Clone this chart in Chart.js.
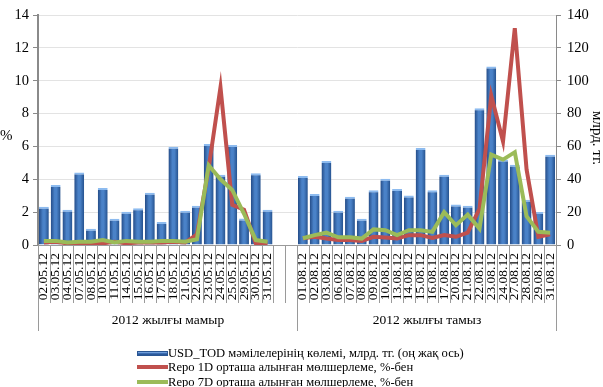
<!DOCTYPE html>
<html><head><meta charset="utf-8">
<script src="https://cdn.jsdelivr.net/npm/chart.js@4/dist/chart.umd.min.js"></script>
<style>
html,body{margin:0;padding:0;background:#fff;}
#wrap{position:relative;width:603px;height:387px;overflow:hidden;}
#legend{position:absolute;left:137px;top:346px;font-family:"Liberation Serif",serif;font-size:12.6px;color:#000;}
.row{height:14.3px;line-height:14.3px;white-space:nowrap;display:flex;align-items:center;}
.ic{display:inline-block;width:31px;margin-right:0px;}
</style></head>
<body><div id="wrap"><canvas id="c" width="603" height="387"></canvas>
<div id="legend">
<div class="row"><span class="ic" style="height:5px;background:linear-gradient(#8dbbef,#3d6fb6 45%,#24508c);border:1px solid #2a5694;box-sizing:border-box"></span>USD_TOD мәмілелерінің көлемі, млрд. тг. (оң жақ ось)</div>
<div class="row"><span class="ic" style="height:4px;background:#c0504d"></span>Repo 1D орташа алынған мөлшерлеме, %-бен</div>
<div class="row"><span class="ic" style="height:4px;background:#9bbb59"></span>Repo 7D орташа алынған мөлшерлеме, %-бен</div>
</div></div>
<script>
const datesMay = ['02.05.12','03.05.12','04.05.12','07.05.12','08.05.12','10.05.12','11.05.12','14.05.12','15.05.12','16.05.12','17.05.12','18.05.12','21.05.12','22.05.12','23.05.12','24.05.12','25.05.12','29.05.12','30.05.12','31.05.12'];
const datesAug = ['01.08.12','02.08.12','03.08.12','06.08.12','07.08.12','08.08.12','09.08.12','10.08.12','13.08.12','14.08.12','15.08.12','16.08.12','17.08.12','20.08.12','21.08.12','22.08.12','23.08.12','24.08.12','27.08.12','28.08.12','29.08.12','31.08.12'];
const gapLabels = ['',''];
const groupLabels = ['2012 жылғы мамыр','2012 жылғы тамыз'];
const volumeMay = [23.3,36.5,21.5,44.2,9.9,34.7,16,20.3,22.3,31.8,14,59.8,20.9,23.9,61.5,42.8,60.8,16.2,43.6,21.5];
const volumeAug = [42,31,51.1,20.9,29.4,16,33.3,40.4,34.1,30.2,59,33.3,42.8,24.7,23.9,83.2,108.7,52,48.9,27.6,20.1,55];
const repo1dMay = [0.15,0.2,0.1,0.1,0.1,0.1,0.2,0.1,0.15,0.15,0.15,0.2,0.15,0.65,4.7,9.6,2.45,2.15,0.1,0.1];
const repo1dAug = [0.41,0.5,0.39,0.3,0.3,0.24,0.5,0.45,0.39,0.6,0.6,0.43,0.6,0.5,0.75,2.2,9.1,6.3,13.2,4.6,0.5,0.65];
const repo7dMay = [0.25,0.25,0.15,0.2,0.2,0.3,0.15,0.25,0.2,0.2,0.25,0.25,0.2,0.35,4.85,4.0,3.35,1.9,0.3,0.2];
const repo7dAug = [0.41,0.6,0.75,0.47,0.47,0.39,0.95,0.9,0.6,0.9,0.9,0.8,2.0,1.2,1.85,1.0,5.5,5.2,5.65,1.75,0.8,0.75];
const leftTitle = '%';
const rightTitle = 'млрд. тг.';

const gapNull = gapLabels.map(()=>null);
const labels = [...datesMay, ...gapLabels, ...datesAug];
const volume = [...volumeMay, ...gapNull, ...volumeAug];
const repo1d = [...repo1dMay, ...gapNull, ...repo1dAug];
const repo7d = [...repo7dMay, ...gapNull, ...repo7dAug];
const groupStarts = [0, datesMay.length + gapLabels.length, labels.length];

const FONT = "'Liberation Serif', serif";

const barFill = (ctx) => {
  const chart = ctx.chart, xs = chart.scales && chart.scales.x;
  if (!chart.chartArea || ctx.type !== 'data' || !xs) return '#3d6fb6';
  const cx = xs.getPixelForValue(ctx.dataIndex);
  const w = 5;
  const g = chart.ctx.createLinearGradient(cx - w, 0, cx + w, 0);
  g.addColorStop(0, '#234a85');
  g.addColorStop(0.4, '#4a82c8');
  g.addColorStop(0.6, '#4a82c8');
  g.addColorStop(1, '#24508c');
  return g;
};

const decor = {
  id: 'decor',
  afterDraw(chart) {
    const c = chart.ctx, xs = chart.scales.x, a = chart.chartArea;
    const step = xs.getPixelForValue(1) - xs.getPixelForValue(0);
    const edge = (i) => Math.round(xs.getPixelForValue(i) - step / 2) + 0.5;
    c.save();
    c.strokeStyle = '#9a9a9a';
    c.lineWidth = 1;
    for (let i = 0; i <= labels.length; i++) {
      const x = edge(i);
      const isGroup = groupStarts.includes(i);
      c.beginPath();
      c.moveTo(x, a.bottom);
      c.lineTo(x, isGroup ? 331 : 303);
      c.stroke();
    }
    c.fillStyle = '#000';
    c.font = '13.5px ' + FONT;
    c.textAlign = 'center';
    c.textBaseline = 'middle';
    for (let g = 0; g < groupLabels.length; g++) {
      const cx = (edge(groupStarts[g]) + edge(groupStarts[g + 1])) / 2;
      c.fillText(groupLabels[g], cx, 320);
    }
    c.font = '15px ' + FONT;
    c.textAlign = 'left';
    c.fillText(leftTitle, 0, 136);
    c.translate(597, 138);
    c.rotate(Math.PI / 2);
    c.textAlign = 'center';
    c.fillText(rightTitle, 0, 0);
    c.restore();
  }
};

new Chart(document.getElementById('c'), {
  data: {
    labels,
    datasets: [
      { type: 'line', label: 'Repo 7D', data: repo7d, yAxisID: 'y', borderColor: '#9bbb59', borderWidth: 4, pointRadius: 0, spanGaps: false, order: 0, tension: 0 },
      { type: 'line', label: 'Repo 1D', data: repo1d, yAxisID: 'y', borderColor: '#c0504d', borderWidth: 4, pointRadius: 0, spanGaps: false, order: 1, tension: 0 },
      { type: 'bar', label: 'USD_TOD', data: volume, yAxisID: 'y2', backgroundColor: barFill,
        borderColor: '#8dbbef', borderWidth: {top: 2, left: 0, right: 0, bottom: 0}, borderSkipped: 'bottom',
        categoryPercentage: 1, barPercentage: 0.84, order: 2 }
    ]
  },
  options: {
    responsive: false,
    animation: false,
    layout: { padding: { top: 15, left: 0, right: 0, bottom: 0 } },
    plugins: { legend: { display: false }, tooltip: { enabled: false } },
    scales: {
      x: {
        type: 'category',
        offset: true,
        grid: { display: false, drawTicks: false },
        border: { display: true, color: '#9a9a9a', width: 1 },
        ticks: { autoSkip: false, minRotation: 90, maxRotation: 90, padding: 8, color: '#000', font: { family: FONT, size: 13.5 } },
        afterFit: (s) => { s.height = 142; }
      },
      y: {
        position: 'left', min: 0, max: 14,
        ticks: { stepSize: 2, color: '#000', padding: 4, font: { family: FONT, size: 14.5 } },
        grid: { color: '#e3e3e3', lineWidth: 1, tickColor: '#8a8a8a', tickLength: 5 },
        border: { color: '#8a8a8a', width: 2 },
        afterFit: (s) => { s.width = 38; }
      },
      y2: {
        position: 'right', min: 0, max: 140,
        ticks: { stepSize: 20, color: '#000', padding: 6, font: { family: FONT, size: 14.5 } },
        grid: { drawOnChartArea: false, tickColor: '#8a8a8a', tickLength: 5 },
        border: { color: '#8a8a8a', width: 1 },
        afterFit: (s) => { s.width = 47; }
      }
    }
  },
  plugins: [decor]
});
</script></body></html>
